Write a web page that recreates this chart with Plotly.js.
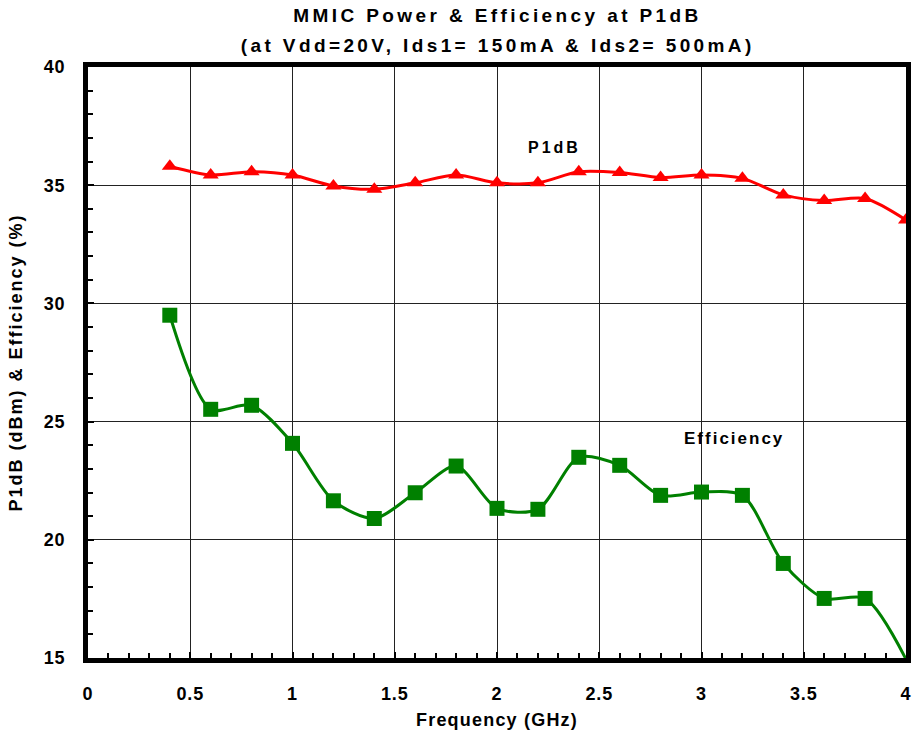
<!DOCTYPE html>
<html>
<head>
<meta charset="utf-8">
<script src="https://cdn.plot.ly/plotly-3.0.1.min.js"></script>
<style>
html,body{margin:0;padding:0;background:#fff;}
#chart{width:913px;height:734px;}
#chart .annotation.title-line text{letter-spacing:3.4px;}
#chart .ytitle{letter-spacing:2px;}
#chart .xtitle{letter-spacing:1.2px;}
#chart .xtick text, #chart .ytick text{letter-spacing:0.8px;}
#chart .annotation.label-p1db text{letter-spacing:3px;}
#chart .annotation.label-eff text{letter-spacing:2px;}
</style>
</head>
<body>
<div id="chart"></div>
<script>
const freqGHz = [0.4, 0.6, 0.8, 1.0, 1.2, 1.4, 1.6, 1.8, 2.0, 2.2, 2.4, 2.6, 2.8, 3.0, 3.2, 3.4, 3.6, 3.8, 4.0];
const p1dB = [35.8, 35.43, 35.57, 35.43, 34.97, 34.83, 35.1, 35.43, 35.1, 35.1, 35.57, 35.54, 35.33, 35.43, 35.29, 34.59, 34.35, 34.44, 33.53];
const efficiency = [29.5, 25.52, 25.69, 24.08, 21.65, 20.9, 21.99, 23.12, 21.33, 21.29, 23.49, 23.15, 21.88, 22.02, 21.88, 19.0, 17.52, 17.52, 14.95];
const xTickVals = [0, 0.5, 1, 1.5, 2, 2.5, 3, 3.5, 4];
const xTickText = ['0', '0.5', '1', '1.5', '2', '2.5', '3', '3.5', '4'];
const yTickVals = [15, 20, 25, 30, 35, 40];
const titleLines = ['MMIC Power &amp; Efficiency at P1dB', '(at Vdd=20V, Ids1= 150mA &amp; Ids2= 500mA)'];

const FONT = 'Liberation Sans, Arial, sans-serif';
const effSizes = efficiency.map(v => v < 15 ? 0 : 15);

const traces = [
  {
    x: freqGHz, y: p1dB, type: 'scatter', mode: 'lines+markers', name: 'P1dB',
    line: {color: '#ff0000', width: 3, shape: 'spline', smoothing: 0.8},
    marker: {symbol: 'triangle-up', size: 14, color: '#ff0000', opacity: 1, line: {width: 0}}
  },
  {
    x: freqGHz, y: efficiency, type: 'scatter', mode: 'lines+markers', name: 'Efficiency',
    line: {color: '#008000', width: 3, shape: 'spline', smoothing: 0.8},
    marker: {symbol: 'square', size: effSizes, sizemode: 'diameter', color: '#008000', opacity: 1, line: {width: 0}}
  }
];

const layout = {
  width: 913, height: 734,
  margin: {l: 88, r: 7, t: 67, b: 76},
  paper_bgcolor: '#fff', plot_bgcolor: '#fff',
  showlegend: false,
  font: {family: FONT, color: '#000'},
  xaxis: {
    range: [0, 4], tickvals: xTickVals, ticktext: xTickText,
    showgrid: true, gridcolor: '#222', gridwidth: 1,
    showline: true, linecolor: '#000', linewidth: 5, mirror: true,
    ticks: 'inside', ticklen: 6, tickwidth: 2, tickcolor: '#000',
    minor: {dtick: 0.1, ticks: 'inside', ticklen: 5, tickwidth: 2, tickcolor: '#000', showgrid: false},
    tickfont: {size: 18, family: FONT, color: '#000', weight: 'bold'},
    ticklabelstandoff: 15,
    zeroline: false,
    title: {text: '<b>Frequency (GHz)</b>', font: {size: 18, family: FONT, color: '#000'}, standoff: 12}
  },
  yaxis: {
    range: [15, 40], tickvals: yTickVals,
    showgrid: true, gridcolor: '#222', gridwidth: 1,
    showline: true, linecolor: '#000', linewidth: 5, mirror: true,
    ticks: 'inside', ticklen: 6, tickwidth: 2, tickcolor: '#000',
    minor: {dtick: 1, ticks: 'inside', ticklen: 5, tickwidth: 2, tickcolor: '#000', showgrid: false},
    tickfont: {size: 18, family: FONT, color: '#000', weight: 'bold'},
    ticklabelstandoff: 14,
    zeroline: false,
    title: {text: '<b>P1dB (dBm) &amp; Efficiency (%)</b>', font: {size: 18, family: FONT, color: '#000'}, standoff: 20}
  },
  annotations: [
    {x: 0.5, y: 1, xref: 'paper', yref: 'paper', yanchor: 'middle', yshift: 52, text: '<b>' + titleLines[0] + '</b>',
     showarrow: false, font: {size: 19, family: FONT, color: '#000'}},
    {x: 0.5, y: 1, xref: 'paper', yref: 'paper', yanchor: 'middle', yshift: 22, text: '<b>' + titleLines[1] + '</b>',
     showarrow: false, font: {size: 19, family: FONT, color: '#000'}},
    {x: 2.28, y: 36.6, xref: 'x', yref: 'y', text: '<b>P1dB</b>', showarrow: false,
     font: {size: 16, family: FONT, color: '#000'}},
    {x: 3.16, y: 24.3, xref: 'x', yref: 'y', text: '<b>Efficiency</b>', showarrow: false,
     font: {size: 17, family: FONT, color: '#000'}}
  ]
};

Plotly.newPlot('chart', traces, layout, {displayModeBar: false, staticPlot: true}).then(gd => {
  const anns = gd.querySelectorAll('.annotation');
  const classes = ['title-line', 'title-line', 'label-p1db', 'label-eff'];
  anns.forEach((a, i) => { if (classes[i]) a.classList.add(classes[i]); });
});
</script>
</body>
</html>
